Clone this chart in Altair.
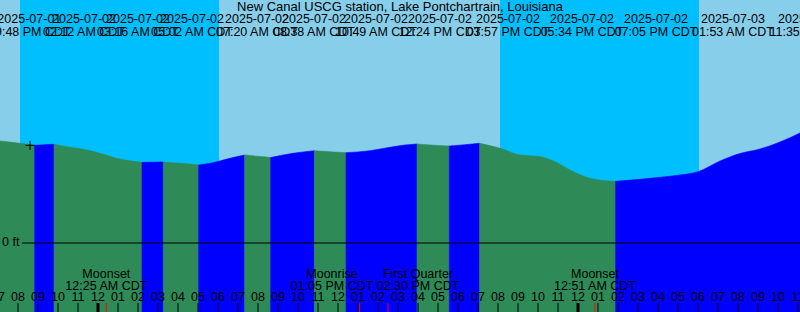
import altair as alt
import pandas as pd

FONT = "Liberation Sans"

# ---- water level (CDT local time, feet) ----
level_times = [
    "2025-07-01 19:06", "2025-07-01 20:06", "2025-07-01 20:50", "2025-07-01 21:48",
    "2025-07-01 22:26", "2025-07-01 23:16", "2025-07-02 00:06", "2025-07-02 00:56",
    "2025-07-02 01:46", "2025-07-02 02:12", "2025-07-02 03:16", "2025-07-02 04:06",
    "2025-07-02 05:02", "2025-07-02 05:45", "2025-07-02 06:36", "2025-07-02 07:20",
    "2025-07-02 08:00", "2025-07-02 08:38", "2025-07-02 09:45", "2025-07-02 10:49",
    "2025-07-02 11:36", "2025-07-02 12:24", "2025-07-02 13:36", "2025-07-02 14:36",
    "2025-07-02 15:21", "2025-07-02 15:57", "2025-07-02 16:51", "2025-07-02 17:34",
    "2025-07-02 18:21", "2025-07-02 19:05", "2025-07-02 20:06", "2025-07-02 21:06",
    "2025-07-02 22:06", "2025-07-02 22:51", "2025-07-02 23:36", "2025-07-03 00:36",
    "2025-07-03 01:21", "2025-07-03 01:53", "2025-07-03 03:06", "2025-07-03 04:06",
    "2025-07-03 05:06", "2025-07-03 06:00", "2025-07-03 07:06", "2025-07-03 08:06",
    "2025-07-03 09:06", "2025-07-03 10:06", "2025-07-03 11:06",
]
levels = [
    1.02, 0.997, 0.977, 0.987,
    0.963, 0.937, 0.897, 0.847,
    0.817, 0.807, 0.81, 0.797,
    0.78, 0.803, 0.847, 0.88,
    0.867, 0.855, 0.897, 0.923,
    0.912, 0.903, 0.923, 0.957,
    0.98, 0.99, 0.977, 0.97,
    0.983, 0.997, 0.947, 0.88,
    0.863, 0.813, 0.73, 0.647,
    0.623, 0.617, 0.637, 0.657,
    0.68, 0.713, 0.82, 0.895,
    0.94, 1.01, 1.10,
]

# high / low water turning points
turn_times = [
    "2025-07-01 20:50", "2025-07-01 21:48", "2025-07-02 02:12", "2025-07-02 03:16",
    "2025-07-02 05:02", "2025-07-02 07:20", "2025-07-02 08:38", "2025-07-02 10:49",
    "2025-07-02 12:24", "2025-07-02 15:57", "2025-07-02 17:34", "2025-07-02 19:05",
    "2025-07-03 01:53",
]

# ---- day / night sky ----
sky_start = ["2025-07-01 19:06", "2025-07-01 20:06", "2025-07-02 06:03", "2025-07-02 20:06", "2025-07-03 06:03"]
sky_end = ["2025-07-01 20:06", "2025-07-02 06:03", "2025-07-02 20:06", "2025-07-03 06:03", "2025-07-03 11:06"]
sky_kind = ["day", "night", "day", "night", "day"]

# ---- hour ticks along the bottom ----
hour_first = "2025-07-01 19:00"
hour_last = "2025-07-03 11:00"

# ---- top event labels ----
top_anchor = [
    "2025-07-01 20:34", "2025-07-01 23:18", "2025-07-02 02:00", "2025-07-02 04:42",
    "2025-07-02 07:57", "2025-07-02 10:48", "2025-07-02 13:54", "2025-07-02 17:06",
    "2025-07-02 20:30", "2025-07-03 00:12", "2025-07-03 03:54", "2025-07-03 07:45",
    "2025-07-03 11:36",
]
top_dates = [
    "2025-07-01", "2025-07-02", "2025-07-02", "2025-07-02", "2025-07-02", "2025-07-02",
    "2025-07-02", "2025-07-02", "2025-07-02", "2025-07-02", "2025-07-02", "2025-07-03",
    "2025-07-03",
]
top_times = [
    "09:48 PM CDT", "02:12 AM CDT", "03:16 AM CDT", "05:02 AM CDT", "07:20 AM CDT",
    "08:38 AM CDT", "10:49 AM CDT", "12:24 PM CDT", "03:57 PM CDT", "05:34 PM CDT",
    "07:05 PM CDT", "01:53 AM CDT", "11:35 AM CDT",
]

# ---- moon events ----
moon_event_times = ["2025-07-02 00:25", "2025-07-02 13:05", "2025-07-02 14:30", "2025-07-03 00:51"]
moon_label_anchor = ["2025-07-02 00:25", "2025-07-02 11:42", "2025-07-02 16:00", "2025-07-03 00:51"]
moon_names = ["Moonset", "Moonrise", "First Quarter", "Moonset"]
moon_times = ["12:25 AM CDT", "01:05 PM CDT", "02:30 PM CDT", "12:51 AM CDT"]

midnights = ["2025-07-02 00:00", "2025-07-03 00:00"]

now_time = ["2025-07-01 20:36"]
now_level = [0.977]

title_text = "New Canal USCG station, Lake Pontchartrain, Louisiana"

# ---------------------------------------------------------------
lv = pd.DataFrame({"t": pd.to_datetime(level_times), "level": levels})
bounds = [lv.t.iloc[0]] + list(pd.to_datetime(turn_times)) + [lv.t.iloc[-1]]
rows = []
for i in range(len(bounds) - 1):
    seg = lv[(lv.t >= bounds[i]) & (lv.t <= bounds[i + 1])]
    kind = "rising" if seg.level.iloc[-1] > seg.level.iloc[0] else "falling"
    for _, r in seg.iterrows():
        rows.append({"t": r.t, "level": r.level, "seg": i, "kind": kind})
water = pd.DataFrame(rows)

sky = pd.DataFrame({"s": pd.to_datetime(sky_start), "e": pd.to_datetime(sky_end), "kind": sky_kind})
hours = pd.DataFrame({"t": pd.date_range(hour_first, hour_last, freq="h")})
top = pd.DataFrame({"t": pd.to_datetime(top_anchor), "date": top_dates, "time": top_times})
moonev = pd.DataFrame({"t": pd.to_datetime(moon_event_times)})
moonlab = pd.DataFrame({"t": pd.to_datetime(moon_label_anchor), "name": moon_names, "time": moon_times})
mid = pd.DataFrame({"t": pd.to_datetime(midnights)})
now = pd.DataFrame({"t": pd.to_datetime(now_time), "level": now_level})
zero = pd.DataFrame({"z": [0.0]})

xs = alt.Scale(domain=[alt.DateTime(year=2025, month=7, date=1, hours=19, minutes=6),
                       alt.DateTime(year=2025, month=7, date=3, hours=11, minutes=6)])
ys = alt.Scale(domain=[-0.69, 2.43], nice=False, zero=False)
X = lambda f: alt.X(f, scale=xs, axis=None)

sky_layer = alt.Chart(sky).mark_rect().encode(
    x=X("s:T"), x2="e:T",
    y=alt.value(0), y2=alt.value(312),
    color=alt.Color("kind:N", scale=alt.Scale(domain=["day", "night"], range=["#87CEEB", "#00BFFF"]), legend=None),
)

wscale = alt.Scale(domain=["rising", "falling"], range=["#0000FF", "#2E8B57"])
water_layer = alt.Chart(water).mark_area(interpolate="monotone", strokeWidth=0.6).encode(
    x=X("t:T"),
    y=alt.Y("level:Q", scale=ys, axis=None, stack=None),
    y2=alt.value(312),
    detail="seg:N",
    fill=alt.Fill("kind:N", scale=wscale, legend=None),
    stroke=alt.Stroke("kind:N", scale=wscale, legend=None),
)

zero_rule = alt.Chart(zero).mark_rule(color="black", strokeWidth=1).encode(
    y=alt.Y("z:Q", scale=ys, axis=None), x=alt.value(22), x2=alt.value(800))
zero_text = alt.Chart(zero).mark_text(text="0 ft", align="left", baseline="middle", font=FONT,
                                      fontSize=12.5, color="black", dy=-1).encode(
    y=alt.Y("z:Q", scale=ys, axis=None), x=alt.value(2))

now_mark = alt.Chart(now).mark_point(shape="M-1,0L1,0M0,-1L0,1", size=81, filled=False,
                                     stroke="black", strokeWidth=1, opacity=1).encode(
    x=X("t:T"), y=alt.Y("level:Q", scale=ys, axis=None))

hour_ticks = alt.Chart(hours).mark_rule(color="black", strokeWidth=1).encode(
    x=X("t:T"), y=alt.value(303), y2=alt.value(312))
hour_labels = alt.Chart(hours).mark_text(font=FONT, fontSize=12.5, color="black", baseline="alphabetic").encode(
    x=X("t:T"), y=alt.value(301), text=alt.Text("t:T", format="%I"))
mid_ticks = alt.Chart(mid).mark_rule(color="black", strokeWidth=3).encode(
    x=X("t:T"), y=alt.value(303), y2=alt.value(312))
moon_ticks = alt.Chart(moonev).mark_rule(color="red", strokeWidth=1).encode(
    x=X("t:T"), y=alt.value(303), y2=alt.value(312))

moon_name = alt.Chart(moonlab).mark_text(font=FONT, fontSize=12.5, color="black", baseline="alphabetic").encode(
    x=X("t:T"), y=alt.value(278), text="name:N")
moon_time = alt.Chart(moonlab).mark_text(font=FONT, fontSize=12.5, color="black", baseline="alphabetic").encode(
    x=X("t:T"), y=alt.value(289.5), text="time:N")

top_date = alt.Chart(top).mark_text(font=FONT, fontSize=12.5, color="black", baseline="alphabetic").encode(
    x=X("t:T"), y=alt.value(23), text="date:N")
top_time = alt.Chart(top).mark_text(font=FONT, fontSize=12.5, color="black", baseline="alphabetic").encode(
    x=X("t:T"), y=alt.value(36), text="time:N")

title_layer = alt.Chart(zero).mark_text(text=title_text, font=FONT, fontSize=13, color="black",
                                        baseline="alphabetic").encode(x=alt.value(400), y=alt.value(11))

chart = alt.layer(
    sky_layer, water_layer, zero_rule, zero_text, now_mark, hour_ticks, hour_labels, mid_ticks, moon_ticks,
    moon_name, moon_time, top_date, top_time, title_layer,
).resolve_scale(color="independent").properties(
    width=800, height=312, padding=0, autosize=alt.AutoSizeParams(type="none"),
).configure_view(stroke=None).configure(font=FONT)

chart.save("out.html", embed_options={"renderer": "svg", "actions": False})
